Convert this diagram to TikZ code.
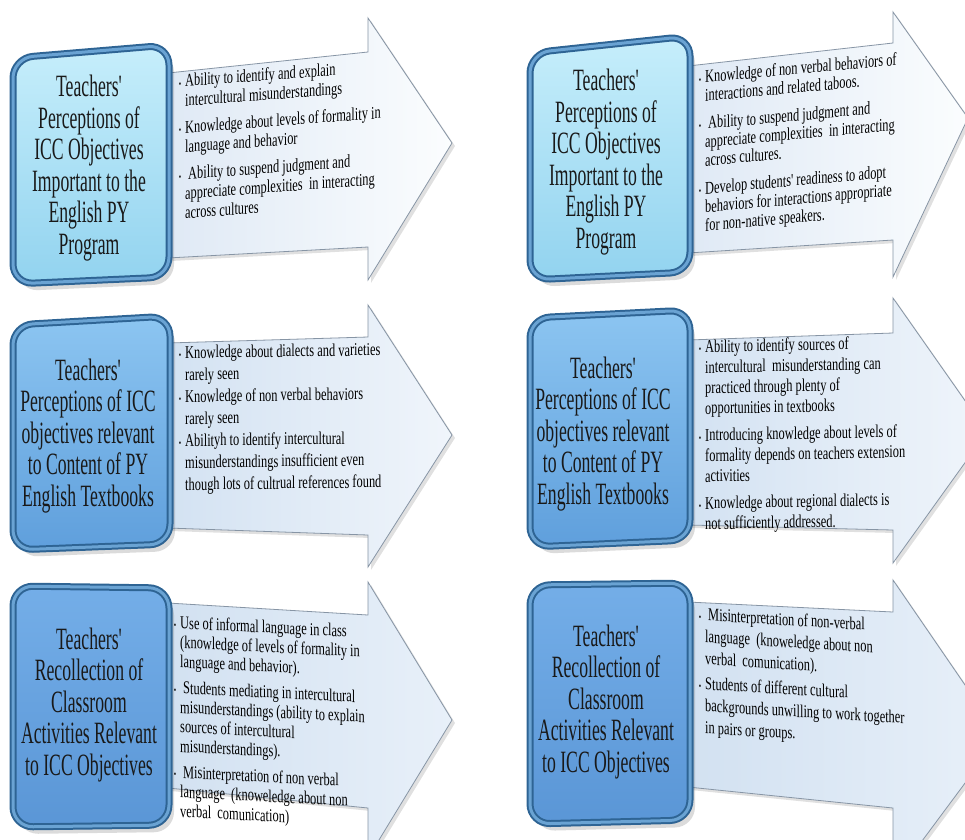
\documentclass[tikz,border=0pt]{standalone}
\usepackage{fontspec}
\setmainfont{Liberation Serif}
\newfontfamily\titlefont[FakeStretch=0.57]{Liberation Serif}
\newfontfamily\bodyfont[FakeStretch=0.69]{Liberation Serif}
\definecolor{bevelD}{HTML}{2E6494}
\definecolor{bevelL}{HTML}{6AA3D3}
\definecolor{arrEdge}{HTML}{8795A5}
\definecolor{fillAt}{HTML}{C6EEFB}
\definecolor{fillAb}{HTML}{92D3EF}
\definecolor{fillBt}{HTML}{8CC5F1}
\definecolor{fillBb}{HTML}{5F9FDC}
\definecolor{fillCt}{HTML}{74AEE8}
\definecolor{fillCb}{HTML}{5A96D6}
\definecolor{arrAL}{HTML}{DFE9F5}
\definecolor{arrAR}{HTML}{FBFDFE}
\definecolor{arrBL}{HTML}{D3E2F2}
\definecolor{arrBR}{HTML}{F0F5FB}
\definecolor{arrCL}{HTML}{D2E1F1}
\definecolor{arrCR}{HTML}{E8F0F9}
\tikzset{
  titletext/.style={align=center, inner sep=0pt, text=black!90,
    font=\titlefont\fontsize{31}{31.5}\selectfont},
  bullettext/.style={align=left, inner sep=0pt, anchor=north west, text=black},
  boxA/.style={top color=fillAt, bottom color=fillAb},
  boxB/.style={top color=fillBt, bottom color=fillBb},
  boxC/.style={top color=fillCt, bottom color=fillCb},
  arrowA/.style={left color=arrAL, right color=arrAR, draw=arrEdge, line width=0.8pt},
  arrowB/.style={left color=arrBL, right color=arrBR, draw=arrEdge, line width=0.8pt},
  arrowC/.style={left color=arrCL, right color=arrCR, draw=arrEdge, line width=0.8pt},
}
\newcommand\bul{\leavevmode\llap{{\fontsize{10}{10}\selectfont\textbullet}\hspace{4pt}}}
\newcommand\arrowshape[8]{%
  \fill[black,opacity=0.12,xshift=3pt,yshift=-3pt] #2--#3--#4--#5--#6--#7--#8--cycle;
  \path[#1] #2--#3--#4--#5--#6--#7--#8--cycle;}
\newcommand\titlebox[5]{%
  \fill[black,opacity=0.14,rounded corners=20pt,xshift=5pt,yshift=-7pt] #2--#3--#4--#5--cycle;
  \fill[black,opacity=0.16,rounded corners=20pt,xshift=2pt,yshift=-3pt] #2--#3--#4--#5--cycle;
  \path[#1,rounded corners=20pt] #2--#3--#4--#5--cycle;
  \draw[line width=7pt,draw=bevelD,rounded corners=20pt] #2--#3--#4--#5--cycle;
  \draw[line width=3pt,draw=bevelL,rounded corners=20pt] #2--#3--#4--#5--cycle;}
\begin{document}
\begin{tikzpicture}[x=1pt,y=-1pt]
\useasboundingbox (0,0) rectangle (965,839);
\clip (0,0) rectangle (965,839);
\fill[white] (0,0) rectangle (965,839);
% arrows
\arrowshape{arrowA}{(168,73)}{(368,52)}{(368,18)}{(452,143)}{(368,280)}{(368,247)}{(168,258)}
\arrowshape{arrowA}{(688,66)}{(893,43)}{(893,12)}{(968,118)}{(893,277)}{(893,240)}{(688,253)}
\arrowshape{arrowB}{(168,343)}{(368,337)}{(368,305)}{(452,435)}{(368,567)}{(368,535)}{(168,528)}
\arrowshape{arrowB}{(688,340)}{(893,333)}{(893,298)}{(987,432)}{(893,563)}{(893,530)}{(688,525)}
\arrowshape{arrowC}{(168,603)}{(368,615)}{(368,582)}{(452,720)}{(368,858)}{(368,808)}{(168,788)}
\arrowshape{arrowC}{(688,602)}{(893,612)}{(893,580)}{(1000,736)}{(893,880)}{(893,808)}{(688,787)}
% boxes
\titlebox{boxA}{(13,58)}{(169,45)}{(169,277)}{(13,284)}
\titlebox{boxA}{(530,53)}{(690,36)}{(690,272)}{(530,280)}
\titlebox{boxB}{(13,325)}{(170,316)}{(170,544)}{(13,550)}
\titlebox{boxB}{(530,318)}{(690,310)}{(690,540)}{(530,547)}
\titlebox{boxC}{(13,586)}{(169,588)}{(169,825)}{(13,827)}
\titlebox{boxC}{(530,585)}{(690,583)}{(690,820)}{(530,824)}
% titles
\node[titletext] (t1) at (89,168) {Teachers'\\Perceptions of\\ICC Objectives\\Important to the\\English PY\\Program};
\node[titletext] (t2) at (606,162) {Teachers'\\Perceptions of\\ICC Objectives\\Important to the\\English PY\\Program};
\node[titletext] (t3) at (88,436) {Teachers'\\Perceptions of ICC\\objectives relevant\\to Content of PY\\English Textbooks};
\node[titletext] (t4) at (603,434) {Teachers'\\Perceptions of ICC\\objectives relevant\\to Content of PY\\English Textbooks};
\node[titletext] (t5) at (89,705) {Teachers'\\Recollection of\\Classroom\\Activities Relevant\\to ICC Objectives};
\node[titletext] (t6) at (606,702) {Teachers'\\Recollection of\\Classroom\\Activities Relevant\\to ICC Objectives};
% bullet texts
\node[bullettext, yslant=0.075, font={\bodyfont\fontsize{18}{19.5}\selectfont}] (b1) at (185,73.7)
 {\bul Ability to identify and explain\\ intercultural misunderstandings\\[7.5pt]
  \bul Knowledge about levels of formality in\\ language and behavior\\[7.5pt]
  \bul\hspace{3pt}Ability to suspend judgment and\\ appreciate complexities\ \ in interacting\\ across cultures};
\node[bullettext, yslant=0.09, font={\bodyfont\fontsize{18}{18.5}\selectfont}] (b2) at (705,69.7)
 {\bul Knowledge of non verbal behaviors of\\ interactions and related taboos.\\[9.5pt]
  \bul\hspace{3pt}Ability to suspend judgment and\\ appreciate complexities\ \ in interacting\\ across cultures.\\[9.5pt]
  \bul Develop students' readiness to adopt\\ behaviors for interactions appropriate\\ for non-native speakers.};
\node[bullettext, yslant=0.015, font={\bodyfont\fontsize{18}{22}\selectfont}] (b3) at (185,345.7)
 {\bul Knowledge about dialects and varieties\\ rarely seen\\
  \bul Knowledge of non verbal behaviors\\ rarely seen\\
  \bul Abilityh to identify intercultural\\ misunderstandings insufficient even\\ though lots of cultrual references found};
\node[bullettext, yslant=0.02, font={\bodyfont\fontsize{18}{20.5}\selectfont}] (b4) at (705,339.7)
 {\bul Ability to identify sources of\\ intercultural\ \ misunderstanding can\\ practiced through plenty of\\ opportunities in textbooks\\[6.5pt]
  \bul Introducing knowledge about levels of\\ formality depends on teachers extension\\ activities\\[6.5pt]
  \bul Knowledge about regional dialects is\\ not sufficiently addressed.};
\node[bullettext, yslant=-0.05, font={\bodyfont\fontsize{18}{19.5}\selectfont}] (b5) at (180,615.7)
 {\bul Use of informal language in class\\ (knowledge of levels of formality in\\ language and behavior).\\[6.5pt]
  \bul\hspace{3pt}Students mediating in intercultural\\ misunderstandings (ability to explain\\ sources of intercultural\\ misunderstandings).\\[6.5pt]
  \bul\hspace{3pt}Misinterpretation of non verbal\\ language\ \ (knoweledge about non\\ verbal\ \ comunication)};
\node[bullettext, yslant=-0.06, font={\bodyfont\fontsize{18}{22}\selectfont}] (b6) at (705,607.7)
 {\bul\hspace{3pt}Misinterpretation of non-verbal\\ language\ \ (knoweledge about non\\ verbal\ \ comunication).\\[3pt]
  \bul Students of different cultural\\ backgrounds unwilling to work together\\ in pairs or groups.};
\end{tikzpicture}
\end{document}
